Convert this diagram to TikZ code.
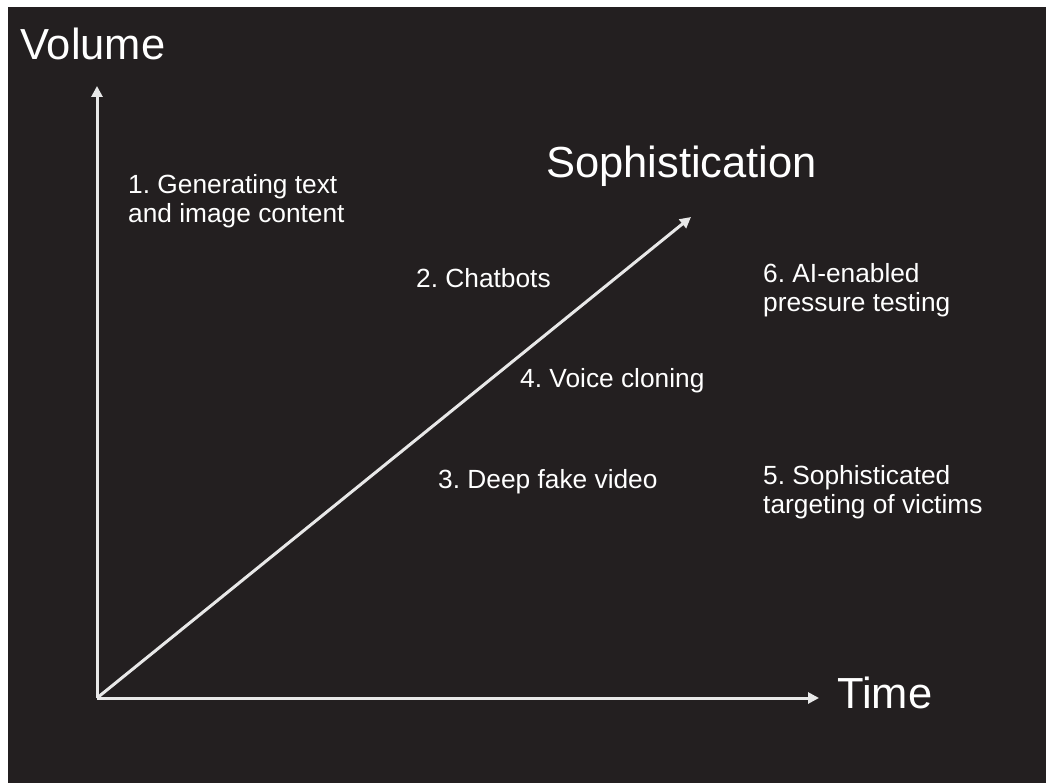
\documentclass[tikz,border=0pt]{standalone}
\usepackage{fontspec}
\setmainfont{Liberation Sans}
\frenchspacing
\usetikzlibrary{arrows.meta}
\definecolor{slate}{HTML}{231F20}
\definecolor{axisgray}{HTML}{E8E8E8}
\tikzset{>={Triangle[length=11pt,width=11pt]}}
\tikzset{axis/.style={->, line width=3pt, draw=axisgray},
    bigtext/.style={text=white, inner sep=0pt, anchor=base west,
        font=\fontsize{43.5}{50}\selectfont},
    smalltext/.style={text=white, inner sep=0pt, anchor=base west, align=left,
        font=\fontsize{26.3}{29}\selectfont}}

\begin{document}
\begin{tikzpicture}[x=1pt,y=-1pt]
    \useasboundingbox (0,0) rectangle (1046,783);
    \fill[slate] (8,7) rectangle (1046,783);
    %axes
    \coordinate (o) at (97,698);
    \coordinate (vtip) at (97,86);
    \coordinate (ttip) at (819,698);
    \coordinate (stip) at (691,217);
    \draw[axis] (o) -- (vtip);
    \draw[axis] (o) -- (ttip);
    \draw[axis] (o) -- (stip);
    %axis labels
    \node[bigtext] (volume) at (20,60) {Volume};
    \node[bigtext] (soph) at (546,178) {Sophistication};
    \node[bigtext] (time) at (837,708) {Time};
    %items (two-line ones sit on their last baseline)
    \node[smalltext] (gen) at (128,223) {1. Generating text\\and image content};
    \node[smalltext] (chat) at (416,288) {2. Chatbots};
    \node[smalltext] (deep) at (438,488) {3. Deep fake video};
    \node[smalltext] (voice) at (520,387) {4. Voice cloning};
    \node[smalltext] (target) at (763,513) {5. Sophisticated\\targeting of victims};
    \node[smalltext] (press) at (763,312) {6. AI-enabled\\pressure testing};
\end{tikzpicture}
\end{document}
